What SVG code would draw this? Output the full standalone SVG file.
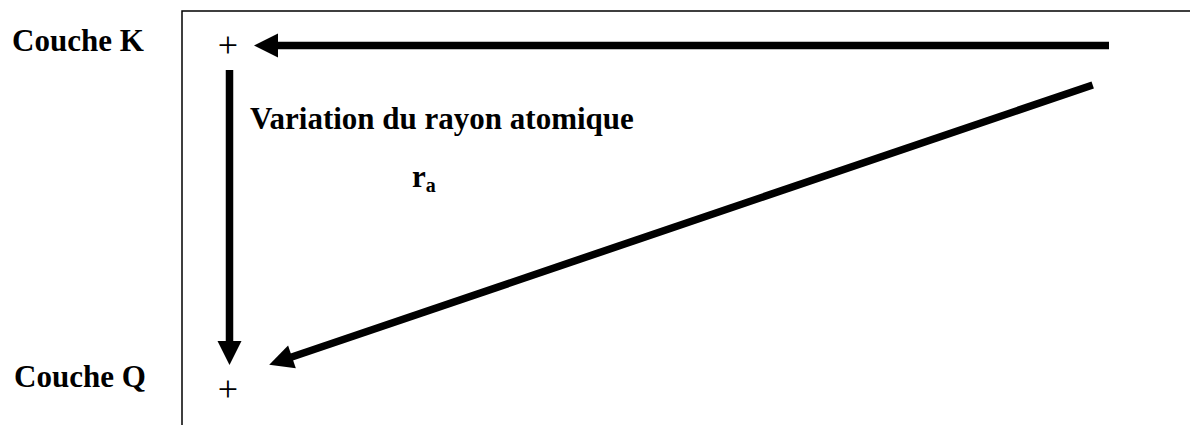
<svg xmlns="http://www.w3.org/2000/svg" width="1190" height="425" viewBox="0 0 1190 425">
<style>
.lbl{font-family:"Liberation Serif","Times New Roman",serif;font-weight:bold;font-size:31px;fill:#000}
.plus{font-family:"Liberation Serif","Times New Roman",serif;font-size:36px;fill:#000;text-anchor:middle}
.frame{stroke:#000;stroke-width:1.5;fill:none}
.arr{stroke:#000;stroke-width:7.5;fill:none;marker-end:url(#head)}
</style>
<defs>
<marker id="head" viewBox="0 -12 24 24" markerWidth="24" markerHeight="24" refX="1" refY="0" orient="auto" markerUnits="userSpaceOnUse" overflow="visible">
<path d="M0,-12 L24,0 L0,12 Z" fill="#000"/>
</marker>
</defs>
<rect width="1190" height="425" fill="#fff"/>
<g id="frame"><path class="frame" d="M182,425 V11 H1190"/></g>
<g id="couche-k"><text class="lbl" x="12" y="51">Couche K</text></g>
<g id="couche-q"><text class="lbl" x="14" y="387">Couche Q</text></g>
<g id="plus-k"><text class="plus" x="228" y="57">+</text></g>
<g id="plus-q"><text class="plus" x="228" y="401">+</text></g>
<g id="title"><text class="lbl" x="250" y="129">Variation du rayon atomique</text></g>
<g id="ra"><text class="lbl" x="412" y="187">r<tspan font-size="20" dy="5">a</tspan></text></g>
<g id="connectors">
<line class="arr" x1="1109" y1="45.5" x2="277" y2="45.5"/>
<line class="arr" x1="229.5" y1="70" x2="229.5" y2="342"/>
<line class="arr" x1="1092.7" y1="85" x2="291" y2="357.3"/>
</g>
</svg>
